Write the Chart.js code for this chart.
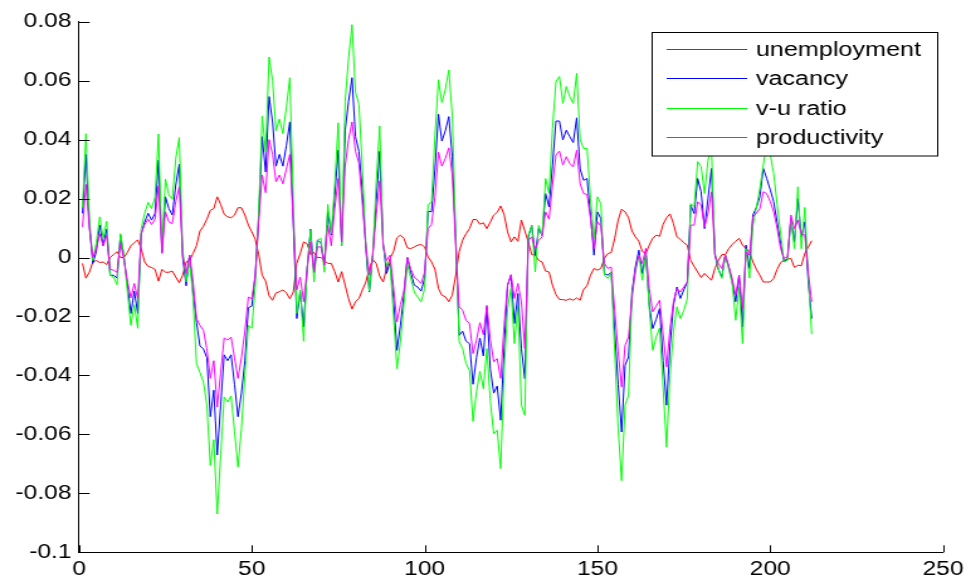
<!DOCTYPE html>
<html>
<head>
<meta charset="utf-8">
<script src="https://cdn.jsdelivr.net/npm/chart.js@4.4.0/dist/chart.umd.min.js"></script>
<style>
    html, body { margin: 0; padding: 0; background: #fff; overflow: hidden; }
    #wrap { width: 772px; height: 579px; transform: scaleX(1.2578); transform-origin: 0 0; }
</style>
</head>
<body>
<div id="wrap"><canvas id="chart" width="772" height="579"></canvas></div>
<script>
// Series, one value per period (1..212)
const unemployment = [
    -0.002, -0.007, -0.005, -0.0015, -0.001, -0.0017, -0.0015, -0.0024, 0.000, 0.001,
    0.002, 0.000, 0.000, 0.0017, 0.004, 0.005, 0.006, 0.003, -0.0015, -0.003,
    -0.0034, -0.004, -0.008, -0.004, -0.005, -0.005, -0.0046, -0.0066, -0.0086, -0.006,
    -0.0015, -0.001, 0.0014, 0.004, 0.009, 0.0106, 0.013, 0.016, 0.0166, 0.0206,
    0.018, 0.0147, 0.0138, 0.0135, 0.0144, 0.0169, 0.0169, 0.0144, 0.011, 0.0087,
    0.0062, 0.001, -0.006, -0.008, -0.013, -0.0145, -0.012, -0.0116, -0.011, -0.012,
    -0.014, -0.0117, -0.002, 0.0013, 0.0053, 0.0047, 0.001, 0.0017, 0.000, 0.000,
    -0.001, -0.002, -0.002, -0.0048, -0.0083, -0.0048, -0.0094, -0.014, -0.0175, -0.015,
    -0.0139, -0.011, -0.0083, -0.0037, -0.0007, -0.002, -0.0063, -0.0083, -0.0037, -0.0003,
    0.002, 0.0067, 0.0076, 0.0065, 0.0033, 0.003, 0.0036, 0.0042, 0.0044, 0.0036,
    0.0002, -0.0015, -0.004, -0.0105, -0.0128, -0.0133, -0.015, -0.0128, -0.006, 0.002,
    0.0059, 0.0081, 0.0098, 0.0129, 0.0129, 0.0113, 0.0118, 0.0098, 0.012, 0.0144,
    0.0153, 0.0175, 0.0146, 0.0087, 0.0053, 0.007, 0.0055, 0.0127, 0.009, 0.0053,
    0.001, 0.0008, -0.001, -0.0015, -0.0046, -0.0049, -0.0094, -0.0126, -0.0142, -0.0143,
    -0.0145, -0.014, -0.0145, -0.0137, -0.0145, -0.0108, -0.0096, -0.006, -0.0037, -0.0043,
    -0.0037, -0.0003, 0.0013, 0.0017, 0.0065, 0.0127, 0.0164, 0.0155, 0.0135, 0.009,
    0.007, 0.0055, 0.002, 0.0014, 0.0042, 0.0065, 0.0076, 0.0072, 0.0112, 0.0135,
    0.0148, 0.0115, 0.007, 0.0062, 0.005, 0.0042, -0.001, -0.003, -0.0049, -0.0068,
    -0.0054, -0.0066, -0.0077, -0.0037, -0.001, 0.001, 0.001, 0.003, 0.0044, 0.0055,
    0.0065, 0.0042, 0.003, 0.002, -0.0015, -0.004, -0.006, -0.0083, -0.0083, -0.0083,
    -0.0071, -0.004, -0.0017, -0.001, -0.0006, -0.0003, -0.0034, -0.0026, -0.0028, 0.0014,
    0.0035, 0.0057
];

const vacancy = [
    0.015, 0.035, 0.011, -0.002, 0.002, 0.011, 0.004, 0.0096, -0.006, -0.006,
    -0.007, 0.0076, 0.0, -0.009, -0.019, -0.0114, -0.019, 0.008, 0.012, 0.015,
    0.0127, 0.015, 0.033, 0.0017, 0.0206, 0.0166, 0.0144, 0.0246, 0.0317, 0.0,
    -0.0096, 0.0008, -0.0117, -0.022, -0.030, -0.031, -0.034, -0.054, -0.045, -0.067,
    -0.050, -0.033, -0.035, -0.033, -0.043, -0.054, -0.046, -0.035, -0.017, -0.0165,
    -0.006, 0.014, 0.041, 0.029, 0.0546, 0.046, 0.031, 0.035, 0.031, 0.038,
    0.046, 0.012, -0.0207, -0.0117, -0.0235, -0.004, 0.0096, -0.005, 0.0059, 0.005,
    -0.002, 0.0155, 0.0076, 0.021, 0.0364, 0.004, 0.043, 0.053, 0.061, 0.041,
    0.036, 0.022, 0.003, -0.0117, 0.0008, 0.019, 0.036, 0.005, -0.0054, -0.0015,
    -0.014, -0.0315, -0.023, -0.0128, 0.0, -0.005, -0.0094, -0.010, -0.0114, -0.007,
    0.0157, 0.0155, 0.030, 0.0486, 0.0395, 0.043, 0.0478, 0.0343, 0.006, -0.0264,
    -0.025, -0.0284, -0.0292, -0.043, -0.034, -0.0273, -0.0334, -0.0167, -0.0377, -0.046,
    -0.0436, -0.0552, -0.0309, -0.0094, -0.006, -0.0224, -0.0122, -0.0309, -0.0411, 0.007,
    0.0109, 0.0008, 0.0098, 0.0075, 0.0217, 0.0172, 0.0313, 0.0463, 0.0463, 0.0399,
    0.0432, 0.041, 0.039, 0.0474, 0.030, 0.0262, 0.0268, 0.0144, 0.0008, 0.0155,
    0.0132, -0.0054, -0.006, -0.0049, -0.025, -0.043, -0.0592, -0.0366, -0.0337, -0.0117,
    -0.003, 0.0025, -0.0054, 0.0014, -0.0162, -0.0241, -0.021, -0.0173, -0.035, -0.0501,
    -0.030, -0.0162, -0.010, -0.0139, -0.011, -0.0083, 0.0178, 0.0149, 0.0268, 0.0223,
    0.0098, 0.020, 0.0302, 0.0008, -0.004, -0.0066, 0.0008, -0.003, -0.0083, -0.015,
    -0.006, -0.0235, 0.0042, -0.0037, 0.0144, 0.017, 0.0206, 0.0302, 0.0268, 0.023,
    0.0189, 0.012, 0.0048, -0.0015, -0.0003, 0.0132, 0.0053, 0.020, 0.007, 0.0121,
    -0.0083, -0.0207
];

const vuRatio = [
    0.017, 0.042, 0.014, -0.001, 0.005, 0.0138, 0.0065, 0.0123, -0.006, -0.0066,
    -0.0092, 0.0081, 0.0008, -0.0117, -0.023, -0.016, -0.024, 0.0098, 0.015, 0.0187,
    0.0166, 0.0206, 0.0419, 0.003, 0.0266, 0.0212, 0.0198, 0.0336, 0.0407, 0.003,
    -0.0083, -0.001, -0.014, -0.036, -0.039, -0.0423, -0.050, -0.0705, -0.0618, -0.087,
    -0.067, -0.0473, -0.049, -0.047, -0.059, -0.071, -0.058, -0.040, -0.023, -0.024,
    -0.010, 0.016, 0.048, 0.036, 0.068, 0.060, 0.043, 0.047, 0.042, 0.051,
    0.061, 0.020, -0.019, -0.011, -0.0284, -0.004, 0.0093, -0.0083, 0.0059, 0.0065,
    -0.005, 0.018, 0.0081, 0.025, 0.0457, 0.004, 0.053, 0.0676, 0.079, 0.056,
    0.052, 0.030, 0.005, -0.0114, 0.001, 0.0257, 0.0446, 0.004, -0.0026, -0.0015,
    -0.0196, -0.0377, -0.0286, -0.016, -0.0024, -0.007, -0.0117, -0.0134, -0.015, -0.0105,
    0.0178, 0.019, 0.0415, 0.0603, 0.0526, 0.057, 0.0636, 0.0483, 0.008, -0.0286,
    -0.0309, -0.036, -0.0383, -0.0556, -0.0456, -0.0386, -0.0445, -0.0309, -0.0485, -0.0598,
    -0.0586, -0.0716, -0.0383, -0.0173, -0.0105, -0.0292, -0.0162, -0.050, -0.0535, 0.0075,
    0.0109, -0.0049, 0.0109, 0.0075, 0.0268, 0.0217, 0.0438, 0.0597, 0.0614, 0.0523,
    0.058, 0.0546, 0.0523, 0.0625, 0.040, 0.037, 0.037, 0.020, 0.0065, 0.0206,
    0.0183, -0.006, -0.0071, -0.0049, -0.032, -0.058, -0.0757, -0.0501, -0.0467, -0.0128,
    -0.005, 0.0008, -0.0077, 0.0014, -0.0173, -0.0315, -0.027, -0.0239, -0.044, -0.0643,
    -0.040, -0.0252, -0.0167, -0.0207, -0.018, -0.014, 0.0183, 0.0172, 0.0325, 0.0308,
    0.0217, 0.033, 0.037, 0.0019, -0.004, -0.0071, 0.0008, -0.004, -0.0088, -0.0213,
    -0.010, -0.0292, 0.003, -0.007, 0.011, 0.017, 0.0234, 0.0314, 0.039, 0.035,
    0.0285, 0.018, 0.0082, -0.0015, -0.0009, 0.0132, 0.003, 0.024, 0.003, 0.017,
    -0.006, -0.026
];

const productivity = [
    0.0104, 0.0248, 0.010, 0.0, 0.003, 0.008, 0.004, 0.0076, -0.004, -0.0043,
    -0.005, 0.005, -0.001, -0.008, -0.0137, -0.0088, -0.014, 0.0081, 0.0112, 0.013,
    0.0112, 0.013, 0.0243, 0.0014, 0.0155, 0.0121, 0.0115, 0.019, 0.024, 0.0008,
    -0.0054, 0.0008, -0.008, -0.0207, -0.023, -0.0247, -0.031, -0.041, -0.035, -0.0507,
    -0.039, -0.0273, -0.028, -0.027, -0.034, -0.041, -0.034, -0.025, -0.0134, -0.014,
    -0.006, 0.012, 0.028, 0.022, 0.040, 0.035, 0.0257, 0.028, 0.025, 0.030,
    0.035, 0.012, -0.011, -0.0066, -0.015, -0.004, 0.0053, -0.005, 0.0036, 0.0036,
    -0.0026, 0.011, 0.004, 0.0166, 0.0268, 0.0053, 0.031, 0.040, 0.046, 0.036,
    0.032, 0.018, 0.004, -0.006, 0.0008, 0.0144, 0.026, 0.004, -0.001, 0.0008,
    -0.010, -0.0218, -0.016, -0.0114, 0.0, -0.004, -0.0066, -0.0077, -0.0088, -0.005,
    0.0098, 0.0112, 0.0206, 0.0357, 0.031, 0.0336, 0.0372, 0.028, 0.004, -0.0167,
    -0.0179, -0.0213, -0.0224, -0.0326, -0.0281, -0.0221, -0.0262, -0.0162, -0.0277, -0.0354,
    -0.0343, -0.041, -0.023, -0.0094, -0.0058, -0.0139, -0.0088, -0.015, -0.0309, 0.0058,
    0.007, 0.003, 0.0058, 0.007, 0.0155, 0.013, 0.0245, 0.0348, 0.0361, 0.0314,
    0.0342, 0.0319, 0.0308, 0.0364, 0.025, 0.0217, 0.0214, 0.0133, 0.003, 0.0121,
    0.0107, -0.002, -0.0037, -0.0032, -0.018, -0.032, -0.0439, -0.0298, -0.0269, -0.0139,
    -0.004, 0.0008, -0.002, 0.0031, -0.0105, -0.0184, -0.0165, -0.0145, -0.026, -0.0371,
    -0.024, -0.015, -0.0105, -0.0117, -0.010, -0.0083, 0.011, 0.011, 0.0189, 0.0178,
    0.0104, 0.015, 0.0223, 0.0008, -0.002, -0.0037, 0.0008, -0.003, -0.0071, -0.0128,
    -0.006, -0.0173, 0.0019, 0.0008, 0.0138, 0.015, 0.0166, 0.0223, 0.0217, 0.019,
    0.0155, 0.010, 0.0031, -0.0003, 0.0002, 0.0144, 0.0098, 0.0127, 0.0081, 0.0076,
    -0.0049, -0.015
];

// x positions are just the period index
const periods = unemployment.map((_, i) => i + 1);

const xTickValues = [0, 50, 100, 150, 200, 250];
const xTickLabels = ['0', '50', '100', '150', '200', '250'];
const yTickValues = [-0.1, -0.08, -0.06, -0.04, -0.02, 0, 0.02, 0.04, 0.06, 0.08];
const yTickLabels = ['-0.1', '-0.08', '-0.06', '-0.04', '-0.02', '0', '0.02', '0.04', '0.06', '0.08'];

const seriesNames = ['unemployment', 'vacancy', 'v-u ratio', 'productivity'];
const seriesColors = ['#ff0000', '#0000ff', '#00ff00', '#ff00ff'];
const seriesValues = [unemployment, vacancy, vuRatio, productivity];

const FONT = "'Liberation Sans', Arial, Helvetica, sans-serif";

// MATLAB style: ticks pointing inwards + boxed legend inside the axes
const matlabDecor = {
    id: 'matlabDecor',
    afterDatasetsDraw(chart) {
        const ctx = chart.ctx;
        const area = chart.chartArea;
        const xs = chart.scales.x;
        const ys = chart.scales.y;
        ctx.save();
        ctx.setLineDash([]);
        ctx.globalAlpha = 1;
        ctx.strokeStyle = '#000';
        ctx.lineWidth = 1;
        ctx.beginPath();
        yTickValues.forEach(v => {
            const py = Math.round(ys.getPixelForValue(v)) + 0.5;
            ctx.moveTo(area.left, py);
            ctx.lineTo(area.left + 8.5, py);
        });
        xTickValues.forEach(v => {
            const px = Math.round(xs.getPixelForValue(v)) + 0.5;
            ctx.moveTo(px, area.bottom);
            ctx.lineTo(px, area.bottom - 7);
        });
        ctx.stroke();

        // legend box
        const lx = 518.5, ly = 32.5, lw = 227, lh = 123.5;
        ctx.fillStyle = '#fff';
        ctx.fillRect(lx, ly, lw, lh);
        ctx.strokeStyle = '#000';
        ctx.strokeRect(lx, ly, lw, lh);
        ctx.font = '20px ' + FONT;
        ctx.textBaseline = 'middle';
        ctx.textAlign = 'left';
        seriesNames.forEach((name, i) => {
            const rowY = Math.round(49 + i * 29.3) + 0.5;
            ctx.fillStyle = seriesColors[i];
            ctx.fillRect(530, rowY - 0.5, 64, 1);
            ctx.fillStyle = '#000';
            ctx.fillText(name, 601, rowY + 1);
        });
        ctx.restore();
    }
};

new Chart(document.getElementById('chart'), {
    type: 'line',
    data: {
        datasets: seriesNames.map((name, i) => ({
            label: name,
            data: periods.map((p, j) => ({ x: p, y: seriesValues[i][j] })),
            borderColor: seriesColors[i],
            borderWidth: 1,
            pointRadius: 0,
            tension: 0,
            fill: false,
            order: seriesNames.length - i
        }))
    },
    options: {
        responsive: false,
        animation: false,
        devicePixelRatio: 1,
        layout: { padding: { top: 21.7, right: 18.5, bottom: 0, left: 0 } },
        plugins: {
            legend: { display: false },
            tooltip: { enabled: false }
        },
        scales: {
            x: {
                type: 'linear',
                min: 0,
                max: 250,
                afterBuildTicks: (s) => { s.ticks = xTickValues.map(v => ({ value: v })); },
                afterFit: (s) => { s.height = 26.7; },
                grid: { display: false, drawTicks: false, tickLength: 0 },
                border: { display: true, color: '#000', width: 1 },
                ticks: {
                    color: '#000',
                    padding: 6,
                    maxRotation: 0,
                    font: { family: FONT, size: 19.5 },
                    callback: (v, i) => xTickLabels[i]
                }
            },
            y: {
                type: 'linear',
                min: -0.1,
                max: 0.08,
                afterBuildTicks: (s) => { s.ticks = yTickValues.map(v => ({ value: v })); },
                afterFit: (s) => { s.width = 62.8; },
                grid: { display: false, drawTicks: false, tickLength: 0 },
                border: { display: true, color: '#000', width: 1 },
                ticks: {
                    color: '#000',
                    padding: 6,
                    font: { family: FONT, size: 19.5 },
                    callback: (v, i) => yTickLabels[i]
                }
            }
        }
    },
    plugins: [matlabDecor]
});
</script>
</body>
</html>
